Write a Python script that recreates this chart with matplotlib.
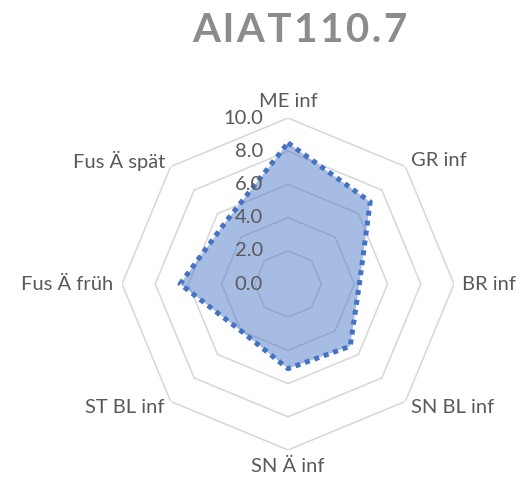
import numpy as np
import matplotlib
matplotlib.use("Agg")
import matplotlib.pyplot as plt

plt.rcParams['font.family'] = ['Lato', 'DejaVu Sans']

# data
categories = ["ME inf", "GR inf", "BR inf", "SN BL inf",
              "SN Ä inf", "ST BL inf", "Fus Ä früh", "Fus Ä spät"]
values = [8.5, 7.0, 4.3, 5.3, 5.1, 4.0, 6.5, 5.3]
ring_values = [2, 4, 6, 8, 10]
tick_labels = ["0.0", "2.0", "4.0", "6.0", "8.0", "10.0"]
title = "AIAT110.7"

blue = "#4472C4"
grey_txt = "#595959"

n = len(categories)
angles = np.linspace(0, 2 * np.pi, n, endpoint=False)
ang_closed = np.append(angles, angles[0])

fig = plt.figure(figsize=(5.22, 4.83), dpi=100)
ax = fig.add_axes([122 / 522, 33 / 483, 332 / 522, 332 / 483], projection="polar")
ax.set_theta_offset(np.pi / 2)
ax.set_theta_direction(-1)
ax.set_ylim(0, 10)
ax.grid(False)
ax.spines["polar"].set_visible(False)
ax.set_xticks([])
ax.set_yticks([])

# octagonal rings
for r in ring_values:
    ax.plot(ang_closed, [r] * (n + 1), color="#D9D9D9", lw=1.2, zorder=1)

# series
vals_closed = values + values[:1]
ax.fill(ang_closed, vals_closed, color=blue, alpha=0.47, lw=0, zorder=2)
ax.plot(ang_closed, vals_closed, color=blue, lw=3.6,
        linestyle=(0, (1, 1)), dash_capstyle="butt", zorder=3)

# radial tick labels
for i, lab in enumerate(tick_labels):
    ax.annotate(lab, xy=(0, 2 * i), xytext=(-18, 0), textcoords="offset points",
                ha="right", va="center", fontsize=14.5, color=grey_txt,
                annotation_clip=False, zorder=4)

# category labels
for a, lab in zip(angles, categories):
    s, c = np.sin(a), np.cos(a)
    ha = "center" if abs(s) < 0.1 else ("left" if s > 0 else "right")
    va = "center"
    if abs(s) < 0.1:
        va = "bottom" if c > 0 else "top"
    ax.text(a, 10.5, lab, ha=ha, va=va, fontsize=14.5, color=grey_txt)

fig.text(0.575, 0.936, "\u200a".join(title), ha="center", va="center",
         fontsize=29, fontweight="bold", color="#8C8C8C")

fig.savefig("out.png", dpi=100)
